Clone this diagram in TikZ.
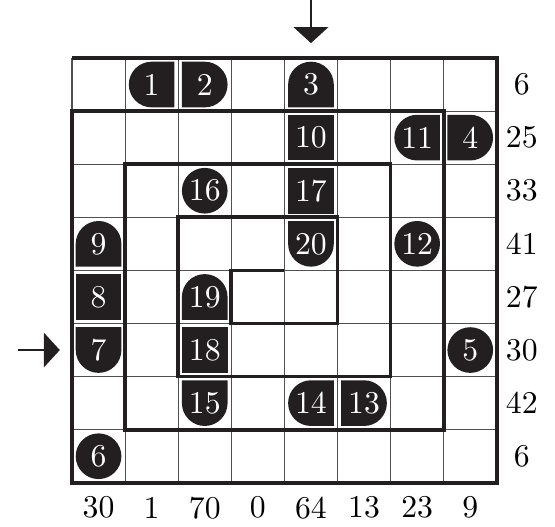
\documentclass[tikz,border=0pt]{standalone}
\usepackage{tikz}
\usetikzlibrary{arrows.meta}
\definecolor{tileblack}{RGB}{35, 31, 32}
\definecolor{gridgray}{RGB}{80, 80, 80}

\tikzset{
  gridline/.style={gridgray, line width=0.55pt},
  wall/.style={tileblack, line width=2pt, line join=miter},
  tilenum/.style={text=white, inner sep=0pt},
  clue/.style={inner sep=0pt},
  entry/.style={tileblack, line width=0.8pt, -{Triangle[width=0.65cm, length=0.3cm]}}
}
% digits: 10pt design, blown up
\newcommand{\digits}[1]{\scalebox{1.7}{#1}}
% tiles: name, centre, text (halftile also takes the side that is round)
\newcommand{\boxtile}[3]{%
  \fill[tileblack, shift={(#2)}] (-0.43,-0.43) rectangle (0.43,0.43);
  \node[tilenum] (#1) at (#2) {\digits{#3}};}
\newcommand{\disctile}[3]{%
  \fill[tileblack] (#2) circle (0.43);
  \node[tilenum] (#1) at (#2) {\digits{#3}};}
\newcommand{\halftile}[4]{%
  \fill[tileblack, shift={(#2)}, rotate=#3] (-0.43,0.43) -- (0,0.43) arc (90:-90:0.43) -- (-0.43,-0.43) -- cycle;
  \node[tilenum] (#1) at (#2) {\digits{#4}};}

\begin{document}
\begin{tikzpicture}
  \useasboundingbox (-1.356,1.092) rectangle (9.096,-8.832);

  \draw[gridline] (0,0) grid (8,-8);
  \draw[wall] (0,0) -- (8,0) -- (8,-8) -- (0,-8) -- (0,-1) -- (7,-1) -- (7,-7) -- (1,-7)
    -- (1,-2) -- (6,-2) -- (6,-6) -- (2,-6) -- (2,-3) -- (5,-3) -- (5,-5) -- (3,-5)
    -- (3,-4) -- (4,-4);

  % row 0
  \halftile{t1}{1.5,-0.5}{180}{1}
  \halftile{t2}{2.5,-0.5}{0}{2}
  \halftile{t3}{4.5,-0.5}{90}{3}
  % row 1
  \boxtile{t10}{4.5,-1.5}{10}
  \halftile{t11}{6.5,-1.5}{180}{11}
  \halftile{t4}{7.5,-1.5}{0}{4}
  % row 2
  \disctile{t16}{2.5,-2.5}{16}
  \boxtile{t17}{4.5,-2.5}{17}
  % row 3
  \halftile{t9}{0.5,-3.5}{90}{9}
  \halftile{t20}{4.5,-3.5}{270}{20}
  \disctile{t12}{6.5,-3.5}{12}
  % row 4
  \boxtile{t8}{0.5,-4.5}{8}
  \halftile{t19}{2.5,-4.5}{90}{19}
  % row 5
  \halftile{t7}{0.5,-5.5}{270}{7}
  \boxtile{t18}{2.5,-5.5}{18}
  \disctile{t5}{7.5,-5.5}{5}
  % row 6
  \halftile{t15}{2.5,-6.5}{270}{15}
  \halftile{t14}{4.5,-6.5}{180}{14}
  \halftile{t13}{5.5,-6.5}{0}{13}
  % row 7
  \disctile{t6}{0.5,-7.5}{6}

  % clues
  \foreach \v [count=\i from 0] in {6,25,33,41,27,30,42,6}
    \node[clue] (row\i) at (8.47,-\i-0.5) {\digits{\v}};
  \foreach \v [count=\i from 0] in {30,1,70,0,64,13,23,9}
    \node[clue] (col\i) at (\i+0.5,-8.47) {\digits{\v}};

  % entrances
  \coordinate (topstart) at (4.5,1.092);
  \coordinate (topend) at (4.5,0.28);
  \coordinate (leftstart) at (-1.02,-5.5);
  \coordinate (leftend) at (-0.23,-5.5);
  \draw[entry] (topstart) -- (topend);
  \draw[entry] (leftstart) -- (leftend);
\end{tikzpicture}
\end{document}
